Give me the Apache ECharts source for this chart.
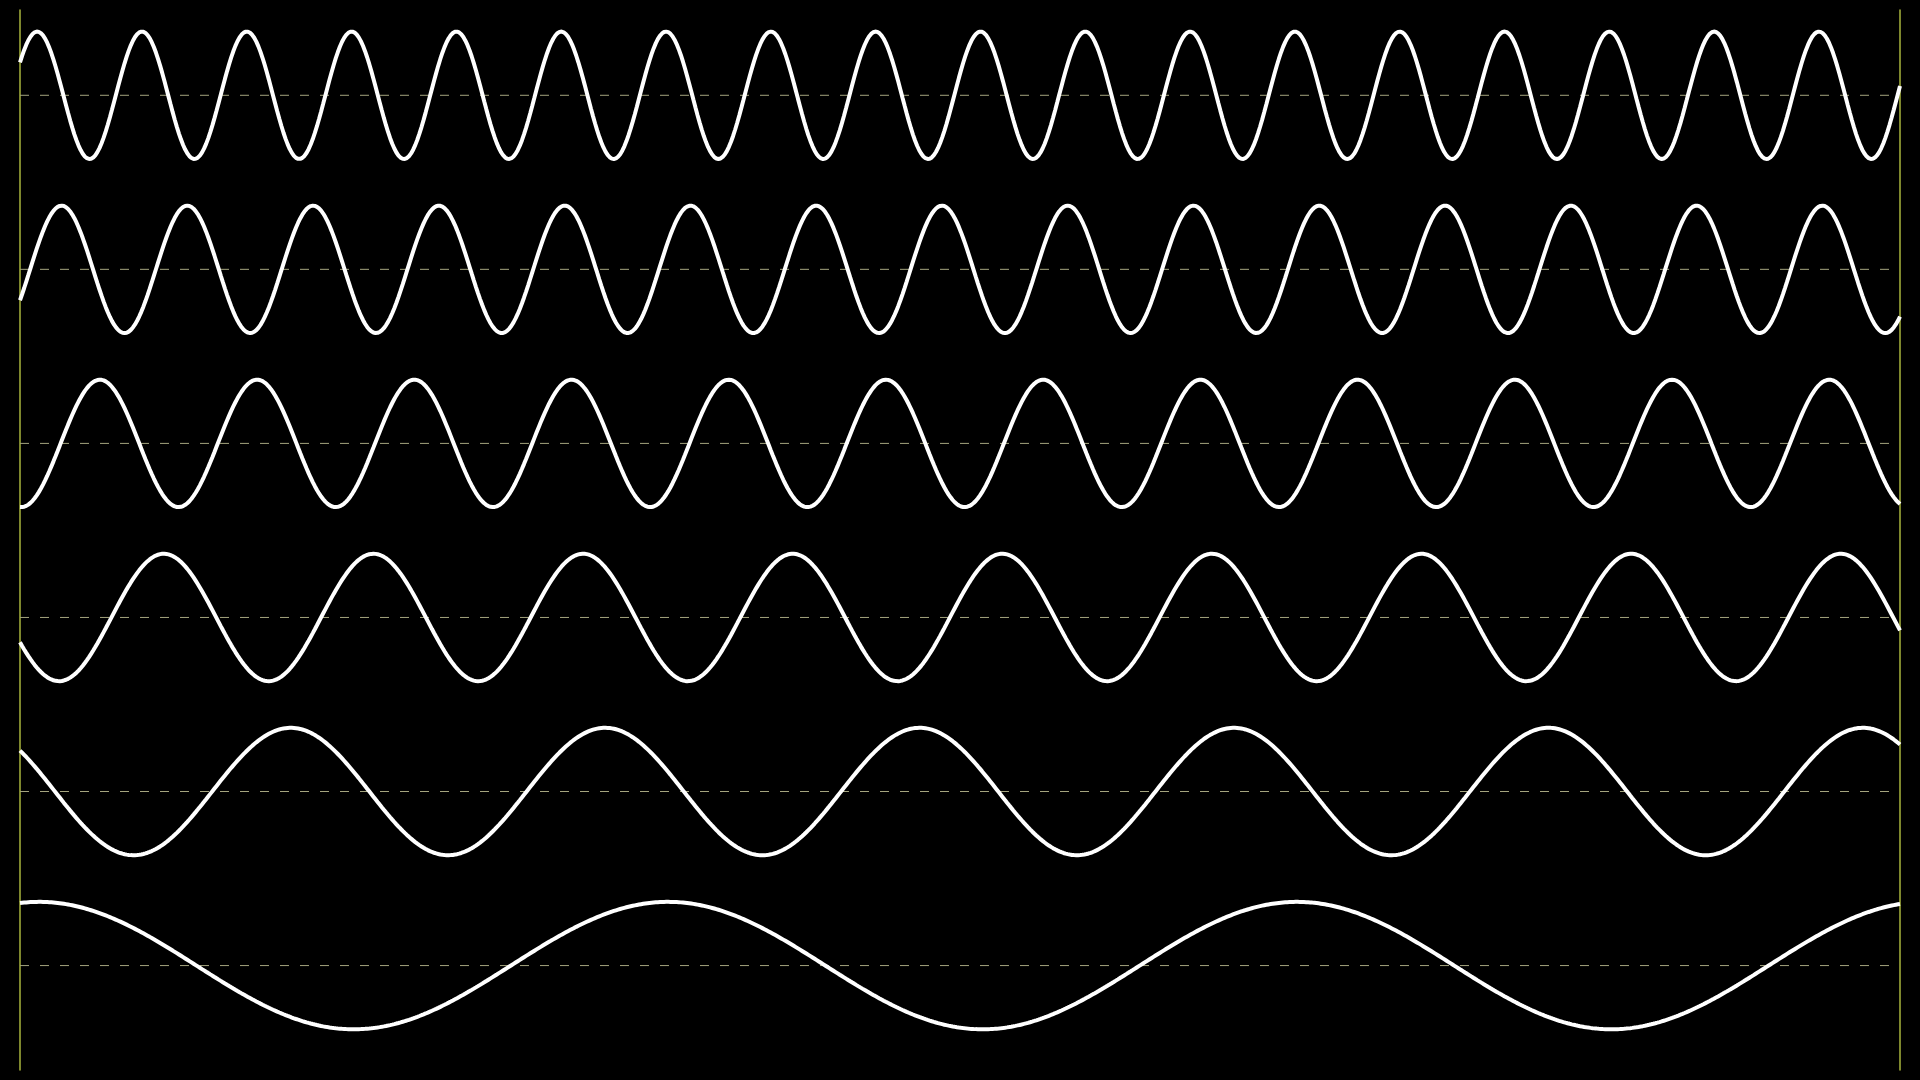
<!DOCTYPE html>
<html>
<head>
<meta charset="utf-8">
<style>
  html, body { margin: 0; padding: 0; background: #000; }
  #chart { width: 1920px; height: 1080px; }
</style>
<script src="https://cdn.jsdelivr.net/npm/echarts@6/dist/echarts.min.js"></script>
</head>
<body>
<div id="chart"></div>
<script>
// Wave parameters (top wave first)
const cycles    = [18, 15, 12, 9, 6, 3];          // full periods across the nominal width
const phaseDeg  = [301, 241, 177, 113, 50, -11];  // cosine phase at the left edge
const baselines = [5, 4, 3, 2, 1, 0];             // centre value of each wave
const amplitude = [0.366, 0.366, 0.366, 0.366, 0.366, 0.366];
const xSpan = 0.9965;                             // fraction of the nominal width that is drawn
const samples = 900;

const chart = echarts.init(document.getElementById('chart'));

const series = [];
// dashed centre lines
baselines.forEach(function (b) {
  series.push({
    type: 'line',
    data: [[0, b], [xSpan * 0.9965, b]],
    showSymbol: false,
    silent: true,
    z: 1,
    lineStyle: { color: '#a4a47e', width: 1, type: [9, 11] }
  });
});
// waves
cycles.forEach(function (c, i) {
  const pts = [];
  const ph = phaseDeg[i] * Math.PI / 180;
  for (let k = 0; k < samples; k++) {
    const t = xSpan * k / (samples - 1);
    pts.push([t, baselines[i] + amplitude[i] * Math.cos(2 * Math.PI * c * t + ph)]);
  }
  series.push({
    type: 'line',
    data: pts,
    showSymbol: false,
    silent: true,
    z: 3,
    lineStyle: { color: '#ffffff', width: 4 }
  });
});

chart.setOption({
  backgroundColor: '#000000',
  animation: false,
  grid: { left: 20, right: 20, top: 10, bottom: 10 },
  xAxis: {
    type: 'value', min: 0, max: xSpan, show: false
  },
  yAxis: [
    {
      type: 'value', min: -0.6, max: 5.49, position: 'left',
      axisLine: { show: true, lineStyle: { color: '#a8b43c', width: 1.5 } },
      axisTick: { show: false }, axisLabel: { show: false }, splitLine: { show: false }
    },
    {
      type: 'value', min: -0.6, max: 5.49, position: 'right',
      axisLine: { show: true, lineStyle: { color: '#a8b43c', width: 1.5 } },
      axisTick: { show: false }, axisLabel: { show: false }, splitLine: { show: false }
    }
  ],
  series: series
});
</script>
</body>
</html>
